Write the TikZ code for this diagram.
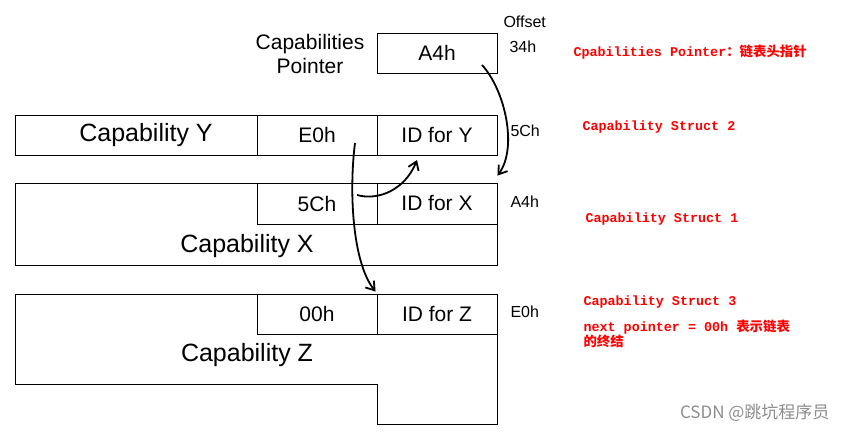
\documentclass[tikz,border=0pt]{standalone}
\usepackage{fontspec}
\setmainfont{Liberation Sans}
\newfontfamily\monofont{Liberation Mono}
\newfontfamily\cjk{Noto Sans CJK SC}
\usetikzlibrary{arrows.meta,positioning}
\definecolor{notered}{RGB}{255,0,0}

\begin{document}
\begin{tikzpicture}[x=1pt,y=-1pt,
  frame/.style={line width=0.9pt},
  cell/.style={draw,frame,minimum width=120,minimum height=40,inner sep=0pt,font=\fontsize{21}{24}\selectfont},
  big/.style={font=\fontsize{25}{28}\selectfont},
  offs/.style={anchor=west,font=\fontsize{16}{19}\selectfont},
  note/.style={anchor=west,align=left,text=notered,font=\monofont\bfseries\fontsize{13.4}{13}\selectfont},
  ptrarrow/.style={-{Straight Barb[length=8pt,width=11pt]},line width=1.8pt}]
        \useasboundingbox (0,0) rectangle (846,433);
        \node[cell] (ptr) at (437,53) {A4h};
        \node[align=center,font=\fontsize{21}{24}\selectfont] (ptrlabel) at (310,54) {Capabilities\\Pointer};
        \node[cell,minimum width=242] (capY) at (136,135) {};
        \node[big] (capYtext) at ([xshift=10]capY.center) {Capability Y};
        \node[cell] (nextY) at (317,135) {E0h};
        \node[cell] (idY) at (437,135) {ID for Y};
        \draw[frame] (15,183) rectangle (497,265);
        \node[cell,minimum height=41] (nextX) at (317,203.5) {5Ch};
        \node[cell,minimum height=41] (idX) at (437,203.5) {ID for X};
        \node[big] (capX) at (247,246) {Capability X};
        \draw[frame] (15,294) -- (497,294) -- (497,424) -- (377,424) -- (377,384) -- (15,384) -- cycle;
        \node[cell] (nextZ) at (317,314) {00h};
        \node[cell] (idZ) at (437,314) {ID for Z};
        \node[big] (capZ) at (247,355) {Capability Z};
        \node[offs] (offhead) at (500,22) {Offset};
        \node[offs] (offptr) at (506,47) {34h};
        \node[offs] (offY) at (507,131) {5Ch};
        \node[offs] (offX) at (507,202) {A4h};
        \node[offs] (offZ) at (507,312) {E0h};
        \draw[ptrarrow] ([shift={(45,12)}]ptr.center) .. controls (505,90) and (518,148) .. ([shift={(0,-7)}]idX.north east);
        \draw[ptrarrow] ([shift={(40,-8.5)}]nextX.center) .. controls (378,201) and (405,190) .. ([shift={(-20,25)}]idY.center);
        \draw[ptrarrow] ([shift={(38,8)}]nextY.center) .. controls (349,190) and (352,262) .. ([shift={(-1,-2)}]idZ.north west);
        \node[note] (notePtr) at (570,52) {Cpabilities Pointer{\cjk\bfseries ：链表头指针}};
        \node[note] (noteY) at (579,127) {Capability Struct 2};
        \node[note] (noteX) at (582,219) {Capability Struct 1};
        \node[note] (noteZ) at (580,302) {Capability Struct 3};
        \node[note] (noteEnd) at (580,334) {next pointer = 00h {\cjk\bfseries 表示链表}\\{\cjk\bfseries 的终结}};
        \node[anchor=east,text=black!45,font=\cjk\fontsize{17}{18}\selectfont] (mark) at (833,413) {CSDN @跳坑程序员};
      \end{tikzpicture}
\end{document}
